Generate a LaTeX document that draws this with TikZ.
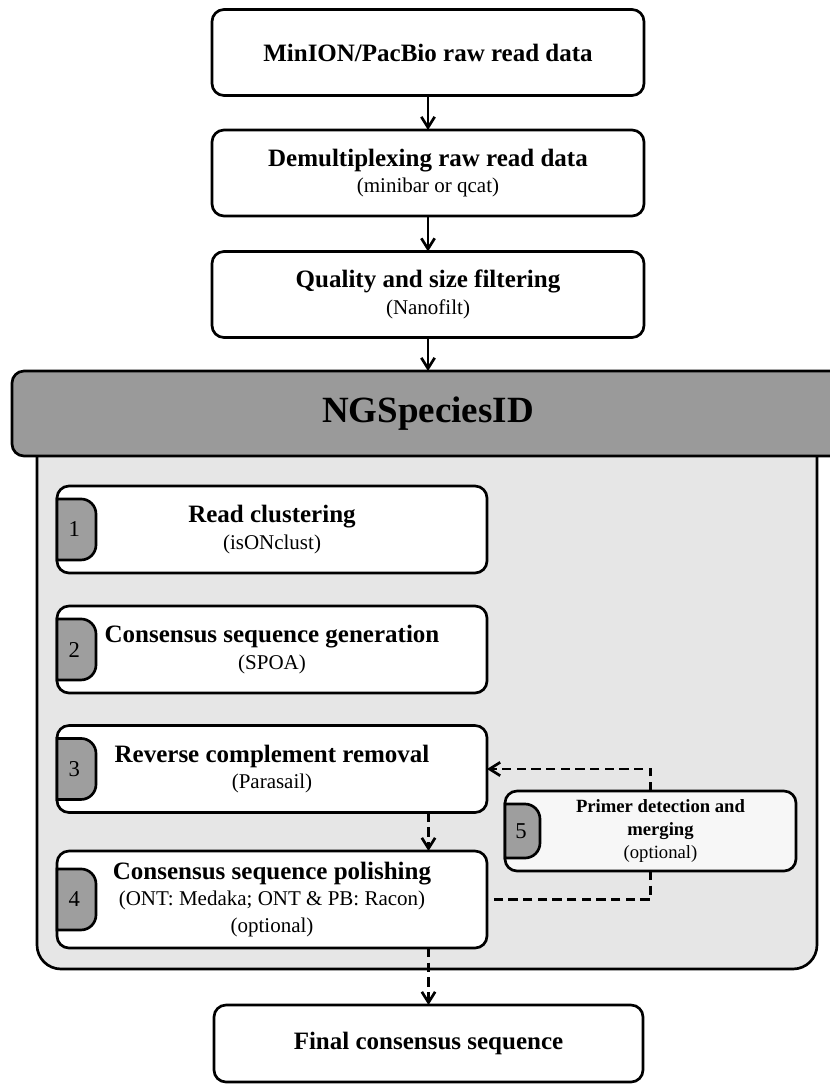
\documentclass[tikz,border=0pt]{standalone}
\usepackage{fontspec}
\setmainfont{Liberation Serif}
\usetikzlibrary{arrows.meta}
\definecolor{headgray}{HTML}{9A9A9A}
\definecolor{bodygray}{HTML}{E6E6E6}
\definecolor{tabgray}{HTML}{9E9E9E}
\definecolor{optwhite}{HTML}{F7F7F7}
\newcommand{\boxhead}[1]{{\fontsize{18.75}{23}\selectfont\bfseries #1}}

\begin{document}
\begin{tikzpicture}[x=0.75pt,y=0.75pt,
  box/.style={draw,line width=2pt,rounded corners=9pt,fill=white,outer sep=0pt,align=center,
    font=\fontsize{15.75}{20}\selectfont},
  topbox/.style={box,minimum width=324pt,minimum height=64.5pt},
  stepbox/.style={box,minimum width=322.5pt,minimum height=65.25pt},
  tab/.style={draw,line width=2pt,fill=tabgray},
  flow/.style={line width=2pt,-{Straight Barb[length=8pt,width=10pt]}},
  opt/.style={dash pattern=on 7pt off 4pt}]
  \useasboundingbox (0,0) rectangle (830,-1086);

  % input steps
  \node[topbox] (raw) at (428,-52.5) {\boxhead{MinION/PacBio raw read data}};
  \node[topbox] (demux) at (428,-173) {\boxhead{Demultiplexing raw read data}\\(minibar or qcat)};
  \node[topbox] (filt) at (428,-294.5) {\boxhead{Quality and size filtering}\\(Nanofilt)};

  % pipeline panel
  \filldraw[line width=2pt,fill=bodygray,rounded corners=18pt] (37,-440) -- (37,-969) -- (817,-969) -- (817,-440);
  \node[box,fill=headgray,minimum width=624pt,minimum height=63.75pt,
    font=\fontsize{27.75}{30}\selectfont\bfseries] (ngs) at (428,-413.5) {NGSpeciesID};

  \node[stepbox] (clust) at (272,-529.5) {\boxhead{Read clustering}\\(isONclust)};
  \node[stepbox] (cons) at (272,-649.5) {\boxhead{Consensus sequence generation}\\(SPOA)};
  \node[stepbox] (revc) at (272,-769) {\boxhead{Reverse complement removal}\\(Parasail)};
  \node[stepbox,minimum height=72.75pt] (polish) at (272,-899.5)
    {\boxhead{Consensus sequence polishing}\\(ONT: Medaka; ONT \& PB: Racon)\\(optional)};
  \node[box,fill=optwhite,minimum width=218.25pt,minimum height=60pt,
    font=\fontsize{14}{17}\selectfont] (primer) at (650.5,-831)
    {\hspace*{15pt}\textbf{Primer detection and}\\\hspace*{15pt}\textbf{merging}\\\hspace*{15pt}(optional)};

  \node[box,minimum width=321.75pt,minimum height=57.75pt] (final) at (428.5,-1043.5)
    {\boxhead{Final consensus sequence}};

  % number tabs
  \foreach \b/\n in {clust/1,cons/2,revc/3,polish/4} {
    \filldraw[tab] ([yshift=22.9pt]\b.west) -- ++(24,0) arc[start angle=90,end angle=0,radius=11.25pt]
      -- ++(0,-31) arc[start angle=0,end angle=-90,radius=11.25pt] -- ++(-24,0) -- cycle;
    \node[font=\fontsize{17}{17}\selectfont] (n\n) at ([xshift=13pt]\b.west) {\n};
  }
  \filldraw[tab] ([yshift=20.25pt]primer.west) -- ++(20,0) arc[start angle=90,end angle=0,radius=11.25pt]
    -- ++(0,-24) arc[start angle=0,end angle=-90,radius=11.25pt] -- ++(-20,0) -- cycle;
  \node[font=\fontsize{17}{17}\selectfont] (n5) at ([xshift=12pt]primer.west) {5};

  % arrows
  \draw[flow] (raw.south) -- (demux.north);
  \draw[flow] (demux.south) -- (filt.north);
  \draw[flow] (filt.south) -- (filt.south |- ngs.north);
  \draw[flow,opt] (revc.south -| final.north) -- (polish.north -| final.north);
  \draw[flow,opt] (polish.south -| final.north) -- (final.north);
  \draw[flow,opt] (primer.north) |- (revc.east);
  \draw[line width=2pt,opt] (primer.south) |- (polish.east);
\end{tikzpicture}
\end{document}
